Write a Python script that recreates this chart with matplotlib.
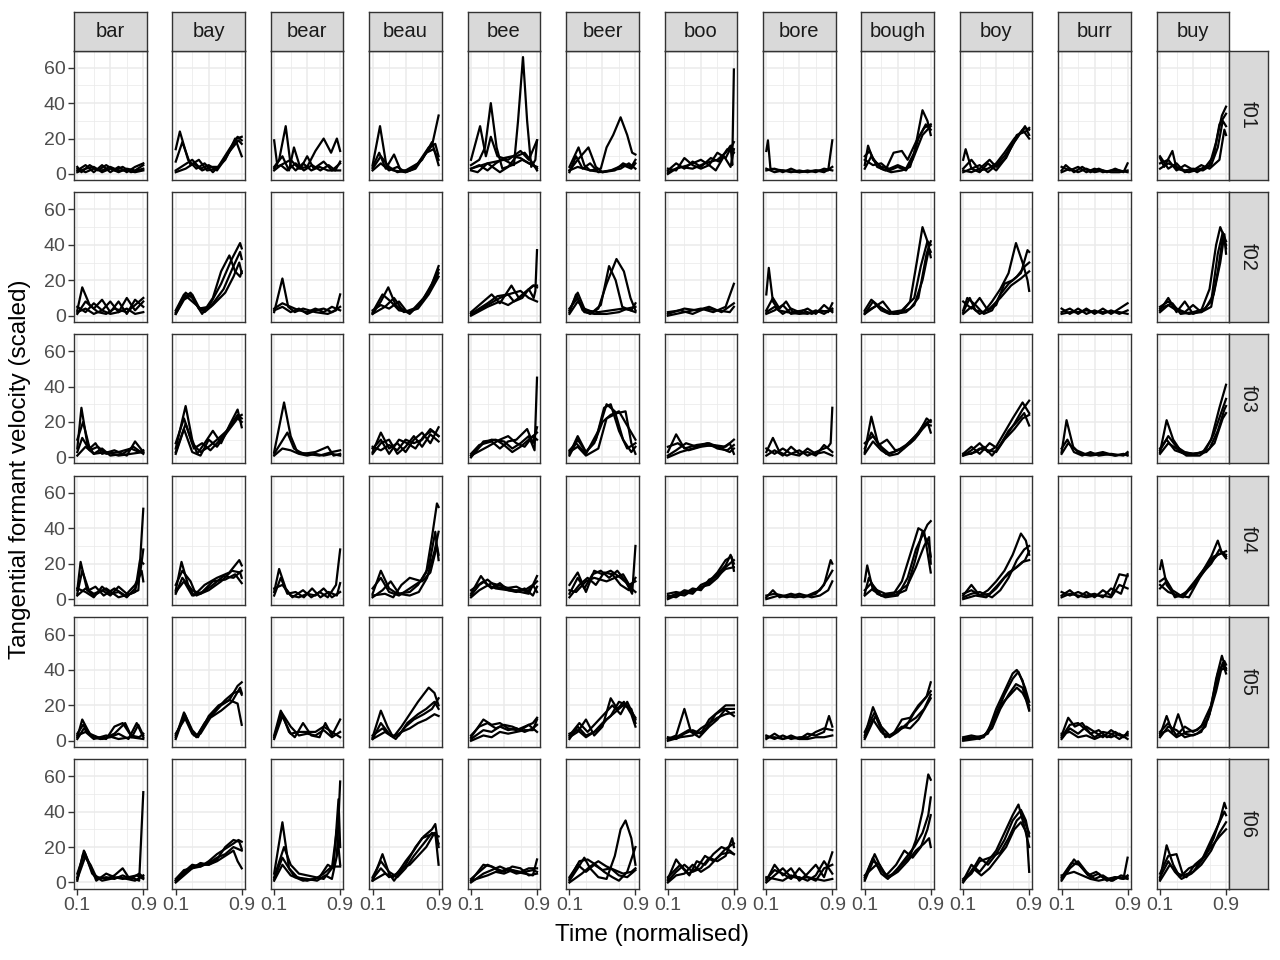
import matplotlib
matplotlib.use("Agg")
import matplotlib.pyplot as plt

plt.rcParams['font.family'] = ['Liberation Sans', 'DejaVu Sans']

words = ["bar", "bay", "bear", "beau", "bee", "beer", "boo", "bore", "bough", "boy", "burr", "buy"]
speakers = ["f01", "f02", "f03", "f04", "f05", "f06"]

# each curve: list of (normalised time, scaled velocity)
f01 = {
    "bar": [[(.1,2),(.2,5),(.3,1),(.4,5),(.5,1),(.6,4),(.7,1),(.8,4),(.9,6)],
            [(.1,4),(.15,1),(.25,5),(.35,2),(.45,5),(.55,2),(.65,4),(.75,1),(.9,3)],
            [(.1,1),(.2,3),(.3,4),(.4,1),(.5,3),(.6,1),(.7,3),(.8,2),(.9,5)],
            [(.1,3),(.2,1),(.3,3),(.4,2),(.5,4),(.6,2),(.7,2),(.8,1),(.9,2)]],
    "bay": [[(.1,14),(.15,24),(.25,8),(.35,3),(.45,6),(.55,1),(.7,8),(.82,20),(.9,10)],
            [(.1,7),(.18,18),(.28,5),(.38,8),(.48,2),(.6,3),(.75,14),(.85,21),(.9,19)],
            [(.1,2),(.2,5),(.3,8),(.4,3),(.5,5),(.6,2),(.72,10),(.84,20),(.9,21)],
            [(.1,1),(.22,3),(.32,6),(.42,2),(.52,4),(.62,4),(.74,12),(.86,19),(.9,17)]],
    "bear": [[(.1,19),(.14,4),(.3,8),(.4,3),(.5,4),(.6,13),(.7,20),(.79,12),(.86,20),(.9,13)],
             [(.1,3),(.16,8),(.24,27),(.3,5),(.36,2),(.45,6),(.55,2),(.65,4),(.75,2),(.9,2)],
             [(.1,4),(.2,10),(.28,2),(.34,15),(.42,3),(.5,10),(.58,3),(.7,7),(.8,2),(.9,6)],
             [(.1,2),(.18,5),(.26,2),(.36,6),(.46,2),(.56,5),(.66,2),(.76,5),(.84,2),(.9,7)]],
    "beau": [[(.1,5),(.19,27),(.27,4),(.35,2),(.5,1),(.6,3),(.72,10),(.82,16),(.9,33)],
             [(.1,4),(.18,12),(.26,3),(.36,11),(.44,2),(.55,2),(.7,8),(.82,18),(.9,5)],
             [(.1,3),(.2,10),(.3,4),(.4,1),(.5,2),(.65,6),(.78,15),(.86,17),(.9,10)],
             [(.1,2),(.2,6),(.3,2),(.4,4),(.5,1),(.62,3),(.75,12),(.84,14),(.9,8)]],
    "bee": [[(.1,3),(.3,6),(.5,8),(.62,5),(.67,30),(.73,66),(.78,30),(.83,4),(.88,8),(.9,19)],
            [(.1,5),(.2,8),(.27,15),(.34,40),(.41,15),(.48,3),(.6,5),(.72,8),(.85,5),(.9,3)],
            [(.1,8),(.21,27),(.28,10),(.34,21),(.42,10),(.55,8),(.7,13),(.8,8),(.9,19)],
            [(.1,3),(.2,5),(.3,2),(.4,6),(.5,9),(.6,10),(.7,9),(.8,6),(.9,4)],
            [(.1,2),(.18,1),(.3,6),(.45,1),(.55,4),(.65,10),(.75,12),(.85,6),(.9,2)]],
    "beer": [[(.1,2),(.2,4),(.35,2),(.48,3),(.55,15),(.63,22),(.72,32),(.8,22),(.86,12),(.9,11)],
             [(.1,4),(.21,15),(.28,5),(.35,2),(.5,1),(.6,2),(.75,5),(.85,3),(.9,6)],
             [(.1,2),(.2,8),(.33,15),(.42,4),(.5,1),(.65,2),(.75,6),(.85,4),(.9,8)],
             [(.1,1),(.18,10),(.26,3),(.35,6),(.45,1),(.6,2),(.72,3),(.82,6),(.9,3)]],
    "boo": [[(.1,1),(.25,4),(.4,3),(.55,6),(.7,8),(.8,12),(.86,16),(.88,5),(.9,59)],
            [(.1,2),(.2,6),(.3,3),(.4,7),(.5,4),(.62,9),(.72,7),(.82,14),(.9,12)],
            [(.1,3),(.2,2),(.3,9),(.4,5),(.5,3),(.6,5),(.7,12),(.8,9),(.9,18)],
            [(.1,0),(.2,3),(.35,5),(.5,8),(.6,5),(.68,2),(.78,10),(.86,4),(.9,14)]],
    "bore": [[(.1,13),(.12,19),(.15,3),(.3,2),(.5,1),(.7,2),(.85,2),(.9,19)],
             [(.1,2),(.2,3),(.3,1),(.4,3),(.5,1),(.6,2),(.7,1),(.8,3),(.9,2)],
             [(.1,3),(.2,1),(.3,2),(.4,1),(.5,2),(.6,1),(.7,2),(.8,1),(.9,4)]],
    "bough": [[(.1,5),(.14,16),(.2,8),(.3,4),(.4,3),(.5,5),(.6,3),(.7,12),(.8,36),(.86,30),(.9,22)],
              [(.1,10),(.16,13),(.25,4),(.35,2),(.45,12),(.55,13),(.62,8),(.72,18),(.82,26),(.9,28)],
              [(.1,3),(.18,10),(.3,3),(.42,1),(.55,2),(.65,4),(.75,20),(.84,28),(.9,25)],
              [(.1,8),(.2,5),(.3,6),(.4,2),(.5,4),(.6,2),(.68,8),(.8,22),(.9,27)]],
    "boy": [[(.1,8),(.13,14),(.2,3),(.3,1),(.4,6),(.5,2),(.6,8),(.72,18),(.85,27),(.9,22)],
            [(.1,3),(.2,8),(.3,2),(.4,3),(.5,6),(.6,12),(.72,20),(.85,26),(.9,25)],
            [(.1,1),(.2,3),(.3,5),(.4,1),(.5,5),(.6,10),(.7,17),(.82,25),(.9,20)],
            [(.1,2),(.2,1),(.3,3),(.42,8),(.5,4),(.62,9),(.75,22),(.86,24),(.9,26)]],
    "burr": [[(.1,2),(.15,5),(.25,1),(.35,4),(.45,1),(.55,3),(.65,1),(.75,3),(.85,1),(.9,6)],
             [(.1,4),(.2,2),(.3,4),(.4,1),(.5,3),(.6,1),(.7,2),(.8,2),(.9,1)],
             [(.1,1),(.2,3),(.3,1),(.4,3),(.5,1),(.6,2),(.7,1),(.8,1),(.9,2)]],
    "buy": [[(.1,9),(.15,4),(.25,13),(.3,3),(.45,1),(.6,3),(.7,5),(.78,18),(.85,33),(.9,38)],
            [(.1,6),(.2,8),(.3,2),(.4,5),(.55,1),(.65,4),(.75,10),(.82,28),(.9,34)],
            [(.1,3),(.2,6),(.3,4),(.4,2),(.5,3),(.62,2),(.72,5),(.8,15),(.86,30),(.9,27)],
            [(.1,10),(.2,3),(.3,6),(.4,1),(.5,2),(.6,5),(.7,3),(.82,8),(.88,25),(.9,22)]],
}

f02 = {
    "bar": [[(.1,3),(.16,16),(.25,6),(.35,2),(.45,1),(.55,4),(.7,2),(.8,6),(.9,10)],
            [(.1,1),(.2,8),(.3,4),(.4,9),(.5,2),(.6,8),(.7,1),(.8,9),(.9,5)],
            [(.1,5),(.2,2),(.3,7),(.4,3),(.5,8),(.6,2),(.7,10),(.8,3),(.9,8)],
            [(.1,2),(.2,4),(.3,1),(.4,3),(.5,1),(.6,2),(.7,4),(.8,1),(.9,2)]],
    "bay": [[(.1,2),(.22,13),(.3,10),(.42,1),(.55,10),(.65,25),(.75,34),(.82,25),(.88,22),(.9,25)],
            [(.1,1),(.2,10),(.28,13),(.38,4),(.5,5),(.65,18),(.78,32),(.88,41),(.9,38)],
            [(.1,3),(.2,12),(.3,8),(.45,2),(.55,6),(.7,13),(.8,22),(.87,30),(.9,24)],
            [(.1,1),(.2,9),(.3,12),(.4,3),(.52,5),(.68,15),(.8,28),(.88,36),(.9,32)]],
    "bear": [[(.1,2),(.2,21),(.27,5),(.35,2),(.45,4),(.6,2),(.75,1),(.85,3),(.9,12)],
             [(.1,4),(.2,7),(.3,5),(.4,3),(.5,2),(.6,4),(.7,2),(.8,5),(.9,3)],
             [(.1,3),(.2,5),(.3,2),(.4,4),(.5,1),(.6,3),(.7,4),(.8,2),(.9,5)]],
    "beau": [[(.1,1),(.2,8),(.29,16),(.38,6),(.48,2),(.6,4),(.72,10),(.82,18),(.9,28)],
             [(.1,2),(.22,12),(.32,8),(.42,3),(.55,2),(.66,6),(.78,14),(.9,26)],
             [(.1,1),(.25,5),(.36,10),(.45,4),(.55,1),(.7,8),(.8,15),(.9,24)],
             [(.1,3),(.2,6),(.3,4),(.42,8),(.52,2),(.65,4),(.78,12),(.9,22)]],
    "bee": [[(.1,1),(.3,6),(.45,10),(.55,12),(.62,8),(.72,10),(.8,15),(.86,10),(.88,14),(.9,37)],
            [(.1,2),(.25,8),(.35,12),(.45,7),(.59,17),(.68,10),(.78,14),(.86,17),(.9,16)],
            [(.1,0),(.3,5),(.45,8),(.55,6),(.65,9),(.75,13),(.85,17),(.9,17)],
            [(.1,1),(.3,7),(.42,11),(.55,12),(.7,14),(.8,10),(.9,8)]],
    "beer": [[(.1,2),(.18,12),(.26,3),(.35,1),(.45,4),(.55,18),(.67,32),(.76,25),(.84,10),(.9,3)],
             [(.1,3),(.2,13),(.28,4),(.38,2),(.48,6),(.58,28),(.66,20),(.74,5),(.84,3),(.9,2)],
             [(.1,1),(.2,8),(.3,3),(.45,2),(.6,3),(.75,4),(.85,3),(.9,7)],
             [(.1,4),(.2,10),(.28,2),(.4,1),(.55,1),(.7,2),(.8,4),(.9,5)]],
    "boo": [[(.1,0),(.3,2),(.5,4),(.65,2),(.8,5),(.9,18)],
            [(.1,1),(.3,4),(.45,3),(.6,5),(.75,2),(.9,7)],
            [(.1,2),(.25,3),(.4,1),(.55,4),(.7,3),(.85,2),(.9,5)]],
    "bore": [[(.1,12),(.13,27),(.18,8),(.25,3),(.35,2),(.5,1),(.7,2),(.9,3)],
             [(.1,3),(.18,10),(.26,4),(.34,8),(.42,2),(.55,3),(.65,1),(.75,3),(.85,2),(.9,7)],
             [(.1,2),(.2,5),(.3,1),(.4,4),(.5,2),(.6,4),(.7,1),(.8,6),(.9,2)],
             [(.1,1),(.2,3),(.3,6),(.4,1),(.5,2),(.6,1),(.7,3),(.8,1),(.9,4)]],
    "bough": [[(.1,1),(.2,8),(.3,3),(.4,1),(.55,2),(.65,8),(.73,30),(.8,50),(.86,42),(.9,33)],
              [(.1,2),(.22,5),(.32,8),(.42,2),(.55,3),(.7,10),(.78,28),(.86,42),(.9,40)],
              [(.1,3),(.18,9),(.28,5),(.38,2),(.5,1),(.65,4),(.75,10),(.85,35),(.9,42)],
              [(.1,1),(.25,6),(.35,3),(.45,1),(.6,2),(.7,6),(.8,20),(.88,38),(.9,36)]],
    "boy": [[(.1,2),(.18,10),(.25,3),(.35,2),(.45,8),(.55,15),(.65,24),(.74,41),(.82,30),(.88,20),(.9,14)],
            [(.1,8),(.2,4),(.3,10),(.4,3),(.5,6),(.6,18),(.7,20),(.8,24),(.88,37),(.9,36)],
            [(.1,3),(.15,10),(.25,6),(.35,1),(.45,3),(.55,12),(.65,18),(.75,22),(.85,28),(.9,30)],
            [(.1,1),(.2,5),(.3,1),(.42,4),(.55,10),(.68,17),(.8,21),(.9,25)]],
    "burr": [[(.1,2),(.2,4),(.3,1),(.4,4),(.5,1),(.6,4),(.7,1),(.8,4),(.9,7)],
             [(.1,4),(.2,1),(.3,4),(.4,1),(.5,3),(.6,1),(.7,3),(.8,1),(.9,3)],
             [(.1,1),(.2,2),(.3,2),(.4,3),(.5,2),(.6,2),(.7,2),(.8,2),(.9,1)]],
    "buy": [[(.1,3),(.2,10),(.3,2),(.4,8),(.5,1),(.6,3),(.7,15),(.78,40),(.83,50),(.9,42)],
            [(.1,5),(.2,8),(.3,4),(.4,2),(.5,6),(.6,2),(.72,8),(.8,35),(.86,47),(.9,38)],
            [(.1,2),(.2,6),(.3,3),(.45,1),(.6,2),(.72,5),(.8,25),(.86,44),(.9,40)],
            [(.1,4),(.25,7),(.35,1),(.5,2),(.65,4),(.75,12),(.83,30),(.88,46),(.9,35)]],
}

f03 = {
    "bar": [[(.1,5),(.15,28),(.22,8),(.3,2),(.45,3),(.6,1),(.75,2),(.9,3)],
            [(.1,10),(.17,20),(.25,5),(.32,8),(.4,2),(.55,4),(.7,1),(.8,9),(.9,3)],
            [(.1,3),(.16,11),(.25,4),(.35,6),(.45,2),(.6,3),(.75,5),(.85,3),(.9,4)],
            [(.1,1),(.2,6),(.3,2),(.4,5),(.5,1),(.65,2),(.78,6),(.9,2)]],
    "bay": [[(.1,5),(.22,29),(.3,10),(.36,2),(.45,8),(.55,15),(.65,8),(.75,18),(.85,27),(.9,17)],
            [(.1,8),(.2,22),(.3,8),(.4,3),(.5,6),(.6,10),(.72,15),(.85,24),(.9,22)],
            [(.1,3),(.22,19),(.32,5),(.42,8),(.52,4),(.62,9),(.75,17),(.86,23),(.9,24)],
            [(.1,2),(.2,16),(.3,3),(.4,1),(.5,10),(.6,6),(.72,14),(.85,22),(.9,20)]],
    "bear": [[(.1,3),(.22,31),(.3,12),(.38,3),(.5,2),(.65,1),(.8,3),(.9,4)],
             [(.1,2),(.18,8),(.26,14),(.34,5),(.45,2),(.6,3),(.75,6),(.82,1),(.9,2)],
             [(.1,1),(.2,5),(.3,4),(.4,2),(.5,1),(.6,2),(.7,1),(.8,2),(.9,1)]],
    "beau": [[(.1,3),(.2,14),(.3,5),(.4,8),(.5,3),(.6,10),(.7,14),(.8,8),(.9,17)],
             [(.1,5),(.2,10),(.3,2),(.42,10),(.52,8),(.62,5),(.72,12),(.82,15),(.9,12)],
             [(.1,2),(.2,8),(.3,10),(.4,2),(.5,6),(.6,12),(.7,6),(.8,13),(.9,9)],
             [(.1,6),(.2,4),(.3,7),(.4,4),(.5,10),(.6,8),(.7,10),(.8,16),(.9,12)]],
    "bee": [[(.1,1),(.25,8),(.35,10),(.5,9),(.6,5),(.7,8),(.8,12),(.87,4),(.9,45)],
            [(.1,2),(.2,7),(.35,9),(.45,5),(.55,9),(.65,10),(.78,16),(.85,8),(.9,17)],
            [(.1,0),(.25,9),(.4,10),(.5,7),(.6,3),(.7,6),(.8,10),(.9,14)],
            [(.1,1),(.3,6),(.45,10),(.55,12),(.65,8),(.75,6),(.85,12),(.9,10)]],
    "beer": [[(.1,2),(.2,12),(.3,3),(.42,10),(.52,28),(.6,30),(.7,15),(.8,5),(.9,8)],
             [(.1,4),(.18,8),(.3,2),(.45,15),(.55,30),(.65,26),(.75,10),(.85,3),(.9,6)],
             [(.1,1),(.2,10),(.3,3),(.4,8),(.5,20),(.6,24),(.7,26),(.8,18),(.9,10)],
             [(.1,3),(.2,6),(.3,1),(.45,5),(.55,22),(.68,25),(.78,26),(.85,8),(.9,2)]],
    "boo": [[(.1,3),(.2,13),(.3,5),(.45,7),(.6,8),(.75,5),(.85,8),(.9,2)],
            [(.1,6),(.22,8),(.35,4),(.5,6),(.65,7),(.8,6),(.9,10)],
            [(.1,1),(.2,4),(.32,8),(.45,6),(.58,8),(.7,5),(.82,4),(.9,7)],
            [(.1,0),(.25,3),(.4,5),(.55,7),(.7,6),(.85,3),(.9,5)]],
    "bore": [[(.1,3),(.18,11),(.26,3),(.35,1),(.5,4),(.6,1),(.75,4),(.85,6),(.88,8),(.9,28)],
             [(.1,1),(.2,4),(.3,1),(.4,6),(.5,2),(.6,3),(.7,1),(.8,7),(.9,3)],
             [(.1,5),(.2,2),(.3,5),(.4,2),(.5,1),(.6,5),(.7,2),(.8,3),(.9,1)]],
    "bough": [[(.1,3),(.18,23),(.26,8),(.36,2),(.45,3),(.55,5),(.65,8),(.75,13),(.85,22),(.9,20)],
              [(.1,5),(.18,14),(.27,7),(.37,10),(.47,4),(.57,5),(.67,10),(.77,15),(.86,20),(.9,14)],
              [(.1,8),(.2,12),(.3,6),(.4,2),(.5,4),(.6,7),(.72,12),(.82,19),(.9,18)],
              [(.1,2),(.2,9),(.3,4),(.4,1),(.5,2),(.6,6),(.7,10),(.8,16),(.9,21)]],
    "boy": [[(.1,1),(.2,4),(.3,8),(.4,3),(.5,6),(.6,14),(.7,22),(.82,31),(.9,25)],
            [(.1,2),(.2,6),(.3,2),(.42,8),(.52,5),(.62,12),(.72,19),(.82,27),(.9,32)],
            [(.1,1),(.25,3),(.35,6),(.45,1),(.55,7),(.65,15),(.75,20),(.84,25),(.9,18)],
            [(.1,2),(.2,2),(.3,5),(.4,4),(.5,3),(.6,10),(.72,16),(.82,22),(.9,24)]],
    "burr": [[(.1,3),(.16,21),(.24,6),(.32,2),(.45,1),(.6,2),(.75,1),(.9,2)],
             [(.1,5),(.17,10),(.25,3),(.35,1),(.45,3),(.55,1),(.7,2),(.85,1),(.9,3)],
             [(.1,2),(.18,8),(.28,4),(.38,2),(.5,2),(.6,3),(.75,1),(.85,2),(.9,1)]],
    "buy": [[(.1,3),(.18,21),(.26,10),(.36,3),(.5,2),(.62,3),(.72,10),(.82,28),(.9,41)],
            [(.1,5),(.18,10),(.28,4),(.4,2),(.55,2),(.65,4),(.75,13),(.84,25),(.9,33)],
            [(.1,2),(.2,8),(.3,5),(.42,1),(.58,1),(.7,5),(.8,15),(.88,27),(.9,29)],
            [(.1,4),(.2,12),(.3,6),(.4,3),(.5,2),(.66,3),(.76,8),(.86,22),(.9,25)]],
}

f04 = {
    "bar": [[(.1,5),(.14,21),(.22,5),(.3,2),(.45,6),(.6,1),(.75,3),(.84,5),(.87,28),(.9,51)],
            [(.1,3),(.16,16),(.24,5),(.32,7),(.42,2),(.55,6),(.68,2),(.8,4),(.86,22),(.9,20)],
            [(.1,2),(.2,6),(.3,3),(.4,5),(.5,2),(.6,7),(.7,3),(.8,8),(.86,14),(.9,28)],
            [(.1,6),(.2,4),(.3,1),(.4,7),(.5,3),(.6,4),(.7,1),(.8,6),(.88,16),(.9,10)]],
    "bay": [[(.1,5),(.17,21),(.25,8),(.32,2),(.45,8),(.6,12),(.75,15),(.87,22),(.9,19)],
            [(.1,8),(.18,16),(.28,10),(.35,2),(.5,5),(.65,10),(.78,16),(.88,15),(.9,12)],
            [(.1,3),(.18,12),(.3,5),(.4,3),(.55,8),(.68,13),(.8,12),(.9,16)],
            [(.1,4),(.2,10),(.3,2),(.42,4),(.55,10),(.7,11),(.82,14),(.9,9)]],
    "bear": [[(.1,4),(.16,17),(.24,6),(.32,1),(.45,5),(.55,1),(.65,4),(.75,1),(.85,8),(.9,28)],
             [(.1,2),(.18,12),(.26,3),(.36,4),(.46,1),(.56,6),(.66,1),(.76,4),(.86,2),(.9,9)],
             [(.1,6),(.2,8),(.3,2),(.4,1),(.5,3),(.6,2),(.7,6),(.8,1),(.9,4)]],
    "beau": [[(.1,3),(.2,16),(.3,6),(.4,3),(.55,4),(.65,8),(.75,15),(.82,35),(.88,54),(.9,52)],
             [(.1,6),(.2,12),(.3,4),(.42,2),(.55,6),(.68,10),(.78,18),(.86,38),(.9,22)],
             [(.1,1),(.22,5),(.32,10),(.42,3),(.55,2),(.66,4),(.76,12),(.85,27),(.9,38)],
             [(.1,2),(.25,3),(.35,1),(.45,8),(.55,12),(.7,10),(.8,15),(.88,30),(.9,25)]],
    "bee": [[(.1,3),(.22,13),(.3,8),(.4,6),(.55,5),(.7,4),(.8,3),(.9,13)],
            [(.1,2),(.2,8),(.3,11),(.4,7),(.5,6),(.65,7),(.78,4),(.9,10)],
            [(.1,5),(.25,10),(.35,6),(.45,9),(.55,5),(.65,4),(.75,6),(.85,2),(.9,7)],
            [(.1,1),(.2,5),(.35,9),(.5,7),(.62,5),(.75,5),(.85,8),(.9,4)]],
    "beer": [[(.1,3),(.2,12),(.28,6),(.38,14),(.48,16),(.58,12),(.68,16),(.78,10),(.86,3),(.9,30)],
             [(.1,8),(.2,15),(.3,4),(.4,16),(.5,14),(.6,16),(.72,12),(.82,8),(.9,10)],
             [(.1,1),(.22,8),(.32,12),(.42,8),(.52,15),(.62,14),(.72,8),(.82,5),(.9,12)],
             [(.1,5),(.18,4),(.3,10),(.4,12),(.55,10),(.65,12),(.75,14),(.85,6),(.9,4)]],
    "boo": [[(.1,1),(.2,3),(.3,2),(.4,5),(.5,6),(.6,9),(.7,14),(.8,19),(.86,25),(.9,20)],
            [(.1,2),(.2,1),(.3,4),(.4,3),(.5,8),(.6,10),(.7,15),(.8,22),(.87,24),(.9,16)],
            [(.1,3),(.2,4),(.3,3),(.4,6),(.5,5),(.6,11),(.7,13),(.8,17),(.9,18)],
            [(.1,0),(.2,2),(.3,5),(.4,4),(.5,7),(.6,8),(.7,12),(.8,18),(.9,22)]],
    "bore": [[(.1,1),(.18,5),(.26,1),(.4,3),(.55,1),(.7,3),(.8,8),(.88,22),(.9,20)],
             [(.1,2),(.2,3),(.3,2),(.45,1),(.6,2),(.75,5),(.85,12),(.9,16)],
             [(.1,0),(.25,2),(.35,1),(.5,3),(.65,1),(.75,2),(.85,5),(.9,10)]],
    "bough": [[(.1,10),(.13,19),(.2,5),(.3,2),(.45,3),(.55,10),(.65,25),(.75,40),(.82,38),(.9,15)],
              [(.1,3),(.15,12),(.25,3),(.35,1),(.5,2),(.62,12),(.72,28),(.8,36),(.86,42),(.9,44)],
              [(.1,5),(.18,9),(.3,2),(.45,2),(.6,5),(.7,20),(.8,38),(.88,30),(.9,24)],
              [(.1,2),(.2,6),(.35,3),(.5,4),(.62,8),(.72,18),(.82,30),(.88,35),(.9,20)]],
    "boy": [[(.1,2),(.2,8),(.3,2),(.4,5),(.5,10),(.6,16),(.7,25),(.8,37),(.86,33),(.9,25)],
            [(.1,1),(.2,3),(.3,4),(.45,1),(.55,5),(.65,12),(.75,22),(.84,28),(.9,30)],
            [(.1,3),(.2,5),(.3,2),(.42,3),(.52,8),(.65,15),(.75,18),(.85,22),(.9,27)],
            [(.1,0),(.25,2),(.38,1),(.5,6),(.6,12),(.72,17),(.82,21),(.9,22)]],
    "burr": [[(.1,2),(.2,5),(.3,1),(.4,4),(.5,1),(.6,5),(.7,2),(.8,14),(.9,13)],
             [(.1,4),(.2,2),(.3,4),(.4,2),(.5,3),(.6,1),(.7,6),(.82,3),(.9,14)],
             [(.1,1),(.2,3),(.3,2),(.4,1),(.5,2),(.6,2),(.7,1),(.8,8),(.9,6)]],
    "buy": [[(.1,17),(.12,22),(.18,8),(.28,2),(.38,1),(.5,8),(.62,16),(.72,24),(.8,33),(.85,26),(.9,25)],
            [(.1,10),(.16,12),(.25,5),(.35,2),(.48,6),(.6,14),(.72,20),(.82,28),(.9,24)],
            [(.1,6),(.18,10),(.28,1),(.4,3),(.52,10),(.65,18),(.75,24),(.85,26),(.9,23)],
            [(.1,8),(.2,4),(.32,2),(.45,1),(.58,12),(.7,20),(.8,25),(.9,27)]],
}

f05 = {
    "bar": [[(.1,2),(.16,12),(.25,4),(.35,2),(.45,1),(.55,8),(.65,10),(.75,3),(.85,2),(.9,4)],
            [(.1,4),(.17,9),(.27,3),(.4,1),(.55,4),(.68,10),(.76,2),(.84,9),(.9,3)],
            [(.1,1),(.18,7),(.28,2),(.38,1),(.5,2),(.6,4),(.72,1),(.82,10),(.9,2)],
            [(.1,3),(.2,5),(.3,1),(.45,3),(.6,1),(.75,2),(.9,1)]],
    "bay": [[(.1,2),(.2,16),(.3,5),(.35,2),(.45,10),(.55,15),(.65,20),(.75,23),(.85,31),(.9,33)],
            [(.1,3),(.21,15),(.3,6),(.36,3),(.48,12),(.6,18),(.7,23),(.8,27),(.88,28),(.9,26)],
            [(.1,1),(.2,14),(.3,4),(.37,2),(.5,14),(.62,20),(.75,23),(.85,21),(.9,9)],
            [(.1,4),(.22,13),(.32,3),(.4,4),(.52,13),(.65,17),(.78,22),(.88,30),(.9,27)]],
    "bear": [[(.1,3),(.18,17),(.28,5),(.35,2),(.45,10),(.55,3),(.65,2),(.72,10),(.8,3),(.9,12)],
             [(.1,2),(.19,16),(.3,8),(.4,3),(.5,4),(.6,3),(.7,6),(.8,2),(.9,5)],
             [(.1,1),(.2,14),(.3,4),(.4,5),(.5,5),(.6,5),(.7,8),(.8,5),(.9,2)]],
    "beau": [[(.1,2),(.2,17),(.28,8),(.35,2),(.45,8),(.55,15),(.65,22),(.78,30),(.85,27),(.9,20)],
             [(.1,1),(.2,10),(.3,4),(.38,1),(.5,8),(.6,12),(.72,15),(.82,18),(.9,24)],
             [(.1,3),(.22,7),(.32,3),(.42,3),(.52,10),(.65,15),(.75,18),(.85,22),(.9,18)],
             [(.1,1),(.25,5),(.35,2),(.45,5),(.55,7),(.65,10),(.75,12),(.85,15),(.9,14)]],
    "bee": [[(.1,2),(.25,12),(.35,9),(.45,10),(.55,7),(.65,6),(.75,8),(.85,10),(.9,13)],
            [(.1,3),(.2,8),(.3,10),(.4,7),(.5,9),(.6,8),(.7,6),(.8,9),(.9,5)],
            [(.1,1),(.25,6),(.35,5),(.45,8),(.55,6),(.65,7),(.75,5),(.85,7),(.9,9)],
            [(.1,0),(.25,3),(.35,2),(.45,5),(.55,4),(.65,5),(.75,6),(.85,6),(.9,12)]],
    "beer": [[(.1,2),(.2,5),(.3,12),(.4,3),(.5,8),(.6,24),(.68,18),(.76,22),(.85,15),(.9,8)],
             [(.1,3),(.22,10),(.32,5),(.42,10),(.52,15),(.62,20),(.72,15),(.8,22),(.9,12)],
             [(.1,1),(.2,8),(.3,3),(.45,6),(.55,12),(.65,16),(.75,20),(.85,18),(.9,10)],
             [(.1,4),(.2,6),(.3,2),(.4,5),(.5,10),(.6,14),(.7,22),(.8,20),(.9,13)]],
    "boo": [[(.1,1),(.2,3),(.3,18),(.38,5),(.48,2),(.6,8),(.7,12),(.8,18),(.9,18)],
            [(.1,2),(.2,1),(.3,4),(.4,6),(.5,4),(.6,12),(.7,16),(.8,20),(.9,20)],
            [(.1,0),(.25,2),(.4,3),(.5,7),(.6,10),(.7,13),(.8,15),(.9,16)],
            [(.1,1),(.2,2),(.35,6),(.45,4),(.55,6),(.68,15),(.78,18),(.9,14)]],
    "bore": [[(.1,1),(.2,4),(.3,1),(.4,3),(.5,1),(.6,4),(.7,3),(.8,5),(.86,14),(.9,8)],
             [(.1,3),(.2,1),(.3,3),(.4,1),(.5,2),(.6,2),(.7,5),(.8,7),(.9,6)],
             [(.1,2),(.2,2),(.3,1),(.4,2),(.5,1),(.6,1),(.7,2),(.8,2),(.9,3)]],
    "bough": [[(.1,3),(.2,19),(.28,10),(.35,2),(.45,4),(.55,12),(.65,13),(.75,20),(.85,25),(.9,33)],
              [(.1,5),(.22,16),(.3,8),(.4,3),(.5,6),(.6,8),(.7,16),(.8,22),(.9,28)],
              [(.1,2),(.2,12),(.3,5),(.4,2),(.5,5),(.62,10),(.72,13),(.82,18),(.9,26)],
              [(.1,1),(.23,14),(.32,4),(.42,3),(.55,8),(.65,7),(.75,12),(.85,20),(.9,24)]],
    "boy": [[(.1,1),(.2,2),(.3,1),(.4,5),(.5,18),(.6,28),(.7,38),(.75,40),(.82,34),(.9,18)],
            [(.1,2),(.2,3),(.3,2),(.4,4),(.5,15),(.6,26),(.7,35),(.77,39),(.85,30),(.9,22)],
            [(.1,0),(.25,1),(.35,2),(.45,10),(.55,20),(.65,25),(.75,30),(.82,27),(.9,20)],
            [(.1,1),(.25,2),(.35,3),(.45,7),(.55,18),(.65,26),(.74,32),(.82,30),(.9,17)]],
    "burr": [[(.1,3),(.18,13),(.26,8),(.35,10),(.45,4),(.55,6),(.65,2),(.75,5),(.85,2),(.9,5)],
             [(.1,2),(.2,9),(.3,10),(.4,6),(.5,2),(.6,5),(.7,4),(.8,1),(.9,4)],
             [(.1,1),(.2,7),(.3,4),(.4,8),(.5,5),(.6,2),(.7,6),(.8,3),(.9,3)],
             [(.1,4),(.2,5),(.3,2),(.4,3),(.5,1),(.6,3),(.7,2),(.8,4),(.9,1)]],
    "buy": [[(.1,3),(.18,14),(.25,5),(.32,15),(.4,4),(.5,3),(.6,5),(.7,15),(.78,35),(.85,48),(.9,40)],
            [(.1,5),(.2,10),(.3,3),(.4,8),(.5,5),(.6,8),(.72,20),(.8,38),(.88,45),(.9,43)],
            [(.1,2),(.2,8),(.3,6),(.4,2),(.55,4),(.65,8),(.75,25),(.83,40),(.9,41)],
            [(.1,4),(.2,6),(.3,2),(.42,5),(.55,6),(.68,12),(.78,28),(.86,44),(.9,38)]],
}

f06 = {
    "bar": [[(.1,3),(.18,18),(.27,8),(.33,1),(.45,5),(.55,3),(.65,2),(.75,3),(.85,1),(.9,51)],
            [(.1,5),(.19,17),(.28,5),(.35,3),(.45,2),(.55,4),(.65,8),(.72,3),(.82,4),(.9,2)],
            [(.1,1),(.17,16),(.26,10),(.34,2),(.45,3),(.55,2),(.65,4),(.75,2),(.85,5),(.9,3)],
            [(.1,2),(.2,15),(.3,4),(.4,1),(.5,2),(.6,3),(.7,2),(.8,1),(.9,4)]],
    "bay": [[(.1,1),(.2,5),(.3,9),(.4,10),(.5,10),(.6,13),(.7,20),(.8,24),(.87,23),(.9,19)],
            [(.1,2),(.2,7),(.3,8),(.4,9),(.5,12),(.6,16),(.7,19),(.8,22),(.86,24),(.9,23)],
            [(.1,0),(.2,4),(.3,8),(.4,11),(.5,10),(.6,12),(.7,15),(.8,18),(.85,12),(.9,8)],
            [(.1,1),(.2,6),(.3,10),(.4,9),(.5,11),(.6,14),(.7,16),(.8,20),(.9,18)]],
    "bear": [[(.1,5),(.2,34),(.28,8),(.35,3),(.5,2),(.62,1),(.72,4),(.8,2),(.86,15),(.9,57)],
             [(.1,2),(.2,14),(.28,8),(.38,3),(.5,1),(.65,3),(.75,10),(.82,8),(.88,47),(.9,20)],
             [(.1,3),(.22,20),(.3,10),(.4,5),(.5,4),(.6,3),(.7,2),(.8,8),(.86,30),(.9,10)],
             [(.1,1),(.2,10),(.3,4),(.45,1),(.6,2),(.7,5),(.8,9),(.9,9)]],
    "beau": [[(.1,1),(.22,16),(.3,5),(.36,1),(.5,10),(.62,20),(.72,26),(.82,30),(.86,33),(.9,20)],
             [(.1,3),(.2,12),(.3,6),(.4,3),(.5,8),(.6,15),(.72,22),(.82,28),(.9,26)],
             [(.1,2),(.2,8),(.3,3),(.4,5),(.5,12),(.6,18),(.7,25),(.8,27),(.86,28),(.9,10)],
             [(.1,1),(.25,5),(.35,3),(.45,8),(.55,10),(.65,15),(.75,20),(.85,28),(.9,22)]],
    "bee": [[(.1,1),(.25,10),(.35,9),(.45,6),(.55,8),(.65,6),(.75,5),(.85,4),(.9,13)],
            [(.1,2),(.2,6),(.3,10),(.4,8),(.5,6),(.6,9),(.7,8),(.8,4),(.9,5)],
            [(.1,0),(.25,5),(.35,7),(.45,9),(.55,7),(.65,5),(.75,6),(.85,7),(.9,6)],
            [(.1,1),(.3,4),(.4,6),(.5,5),(.6,7),(.7,6),(.8,8),(.9,8)]],
    "beer": [[(.1,1),(.2,8),(.28,14),(.35,8),(.45,3),(.55,2),(.65,15),(.72,30),(.78,35),(.85,25),(.9,10)],
             [(.1,2),(.22,12),(.32,13),(.42,10),(.52,6),(.62,3),(.7,1),(.8,6),(.9,20)],
             [(.1,3),(.2,10),(.3,6),(.4,10),(.5,7),(.6,8),(.7,4),(.8,3),(.9,7)],
             [(.1,0),(.25,5),(.35,9),(.45,12),(.55,9),(.65,7),(.75,5),(.85,6),(.9,8)]],
    "boo": [[(.1,2),(.2,13),(.28,8),(.36,4),(.45,12),(.55,10),(.65,16),(.75,20),(.85,18),(.9,16)],
            [(.1,1),(.2,6),(.3,10),(.4,6),(.5,8),(.6,14),(.7,12),(.8,15),(.88,25),(.9,20)],
            [(.1,3),(.25,10),(.35,5),(.45,8),(.55,15),(.65,12),(.75,16),(.85,17),(.9,16)],
            [(.1,0),(.2,4),(.3,5),(.4,10),(.5,6),(.6,9),(.7,14),(.8,19),(.9,22)]],
    "bore": [[(.1,1),(.2,10),(.3,4),(.4,8),(.5,1),(.6,5),(.7,10),(.8,3),(.9,17)],
             [(.1,2),(.2,7),(.3,5),(.4,2),(.5,8),(.6,3),(.7,1),(.8,8),(.9,10)],
             [(.1,0),(.2,4),(.3,8),(.4,3),(.5,3),(.6,1),(.7,4),(.8,12),(.9,5)],
             [(.1,3),(.2,2),(.3,1),(.4,4),(.5,2),(.6,3),(.7,2),(.8,1),(.9,2)]],
    "bough": [[(.1,2),(.22,16),(.3,8),(.36,3),(.45,5),(.55,10),(.65,15),(.72,24),(.8,40),(.87,61),(.9,58)],
              [(.1,3),(.2,14),(.3,5),(.38,2),(.5,8),(.6,14),(.7,20),(.8,28),(.87,38),(.9,48)],
              [(.1,1),(.2,12),(.28,10),(.36,4),(.48,10),(.58,18),(.68,14),(.78,20),(.86,30),(.9,38)],
              [(.1,4),(.24,10),(.32,6),(.4,3),(.5,6),(.62,12),(.72,18),(.82,22),(.88,25),(.9,20)]],
    "boy": [[(.1,1),(.2,10),(.3,6),(.4,12),(.5,18),(.6,28),(.7,38),(.77,44),(.85,30),(.9,20)],
            [(.1,2),(.2,6),(.3,14),(.4,10),(.5,16),(.6,24),(.7,35),(.8,41),(.86,35),(.9,26)],
            [(.1,0),(.22,8),(.32,4),(.42,8),(.52,14),(.62,20),(.72,30),(.8,34),(.87,28),(.9,6)],
            [(.1,1),(.2,5),(.3,12),(.42,14),(.55,17),(.65,25),(.75,35),(.82,38),(.88,30),(.9,28)]],
    "burr": [[(.1,2),(.25,13),(.35,8),(.45,3),(.55,5),(.65,1),(.75,3),(.85,2),(.9,14)],
             [(.1,3),(.22,11),(.32,10),(.42,4),(.52,6),(.62,2),(.72,1),(.82,4),(.9,3)],
             [(.1,1),(.2,8),(.3,12),(.4,6),(.5,2),(.6,4),(.7,1),(.8,3),(.9,2)],
             [(.1,4),(.25,6),(.35,4),(.45,2),(.55,1),(.65,2),(.75,3),(.85,2),(.9,4)]],
    "buy": [[(.1,2),(.18,21),(.26,10),(.34,3),(.45,8),(.55,10),(.65,15),(.75,25),(.83,36),(.88,45),(.9,42)],
            [(.1,5),(.2,15),(.3,16),(.38,4),(.5,6),(.6,12),(.7,22),(.8,32),(.88,40),(.9,38)],
            [(.1,3),(.2,12),(.28,6),(.36,2),(.48,5),(.6,10),(.72,18),(.82,28),(.9,34)],
            [(.1,1),(.22,10),(.32,5),(.42,3),(.52,10),(.62,14),(.72,20),(.82,26),(.9,30)]],
}

data = {"f01": f01, "f02": f02, "f03": f03, "f04": f04, "f05": f05, "f06": f06}

# layout in pixels (ggplot facet_grid look)
W, H = 1280, 960
left0, pw, px = 74, 72.6, 98.43
top0, ph, py = 50.7, 129.3, 141.7
strip = 38.4
border = '#333333'

fig = plt.figure(figsize=(12.8, 9.6), dpi=100)

def box(x, y, w, h):
    return [x / W, 1 - (y + h) / H, w / W, h / H]

for r, spk in enumerate(speakers):
    for c, w in enumerate(words):
        x = left0 + c * px
        y = top0 + r * py
        ax = fig.add_axes(box(x, y, pw, ph))
        ax.set_facecolor('white')
        ax.set_xlim(0.06, 0.94)
        ax.set_ylim(-3.4, 69.6)
        ax.set_xticks([0.1, 0.5, 0.9])
        ax.set_xticks([0.3, 0.7], minor=True)
        ax.set_yticks([0, 20, 40, 60])
        ax.set_yticks([10, 30, 50], minor=True)
        ax.grid(True, which='major', color='#EBEBEB', lw=1.1)
        ax.grid(True, which='minor', color='#EBEBEB', lw=0.55)
        ax.set_axisbelow(True)
        for sp in ax.spines.values():
            sp.set_color(border)
            sp.set_linewidth(1.0)
        ax.tick_params(which='minor', length=0)
        ax.tick_params(which='major', length=4, width=1.0, color=border,
                       labelsize=14, labelcolor='#4D4D4D', pad=2)
        if c == 0:
            ax.set_yticklabels(['0', '20', '40', '60'])
        else:
            ax.tick_params(axis='y', length=0, labelleft=False)
        if r == len(speakers) - 1:
            ax.set_xticks([0.1, 0.9])
            ax.set_xticklabels(['0.1', '0.9'])
        else:
            ax.tick_params(axis='x', length=0, labelbottom=False)

        for curve in data[spk][w]:
            t = [p[0] for p in curve]
            v = [p[1] for p in curve]
            ax.plot(t, v, color='black', lw=1.6, solid_joinstyle='round')

        if r == 0:
            sa = fig.add_axes(box(x, top0 - strip, pw, strip))
            sa.set_facecolor('#D9D9D9')
            sa.set_xticks([]); sa.set_yticks([])
            for sp in sa.spines.values():
                sp.set_color(border); sp.set_linewidth(1.0)
            sa.text(0.5, 0.5, w, ha='center', va='center', fontsize=14.5,
                    color='#1A1A1A', transform=sa.transAxes)
        if c == len(words) - 1:
            sa = fig.add_axes(box(x + pw, y, strip, ph))
            sa.set_facecolor('#D9D9D9')
            sa.set_xticks([]); sa.set_yticks([])
            for sp in sa.spines.values():
                sp.set_color(border); sp.set_linewidth(1.0)
            sa.text(0.5, 0.5, spk, ha='center', va='center', fontsize=14.5,
                    color='#1A1A1A', rotation=-90, transform=sa.transAxes)

xmid = (left0 + left0 + 11 * px + pw) / 2
fig.text(xmid / W, 1 - 935 / H, 'Time (normalised)',
         ha='center', va='center', fontsize=17.5, color='black')
fig.text(20 / W, 1 - (top0 + (5 * py + ph) / 2) / H, 'Tangential formant velocity (scaled)',
         ha='center', va='center', rotation=90, fontsize=17.5, color='black')

fig.savefig('out.png', dpi=100)
